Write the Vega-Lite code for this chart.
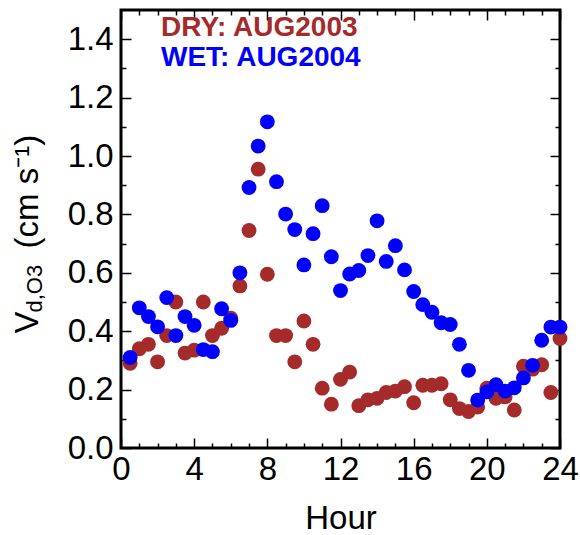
{
  "$schema": "https://vega.github.io/schema/vega-lite/v6.json",
  "width": 439,
  "height": 438,
  "autosize": {"type": "none"},
  "padding": {"left": 121, "top": 10, "right": 20, "bottom": 87},
  "background": "white",
  "config": {
    "view": {"stroke": "black", "strokeWidth": 3},
    "font": "Liberation Sans",
    "axis": {
      "domain": false,
      "grid": false,
      "ticks": true,
      "tickColor": "black",
      "tickWidth": 1.5,
      "labelFont": "Liberation Sans",
      "labelFontSize": 33,
      "labelColor": "black",
      "titleFont": "Liberation Sans",
      "titleFontWeight": "normal",
      "titleColor": "black"
    }
  },
  "data": {
    "values": [
      {"hour": 0.5, "v": 0.29, "series": "DRY: AUG2003"},
      {"hour": 1.0, "v": 0.34, "series": "DRY: AUG2003"},
      {"hour": 1.5, "v": 0.355, "series": "DRY: AUG2003"},
      {"hour": 2.0, "v": 0.295, "series": "DRY: AUG2003"},
      {"hour": 2.5, "v": 0.385, "series": "DRY: AUG2003"},
      {"hour": 3.0, "v": 0.5, "series": "DRY: AUG2003"},
      {"hour": 3.5, "v": 0.325, "series": "DRY: AUG2003"},
      {"hour": 4.0, "v": 0.335, "series": "DRY: AUG2003"},
      {"hour": 4.5, "v": 0.5, "series": "DRY: AUG2003"},
      {"hour": 5.0, "v": 0.385, "series": "DRY: AUG2003"},
      {"hour": 5.5, "v": 0.41, "series": "DRY: AUG2003"},
      {"hour": 6.0, "v": 0.445, "series": "DRY: AUG2003"},
      {"hour": 6.5, "v": 0.555, "series": "DRY: AUG2003"},
      {"hour": 7.0, "v": 0.745, "series": "DRY: AUG2003"},
      {"hour": 7.5, "v": 0.955, "series": "DRY: AUG2003"},
      {"hour": 8.0, "v": 0.595, "series": "DRY: AUG2003"},
      {"hour": 8.5, "v": 0.385, "series": "DRY: AUG2003"},
      {"hour": 9.0, "v": 0.385, "series": "DRY: AUG2003"},
      {"hour": 9.5, "v": 0.295, "series": "DRY: AUG2003"},
      {"hour": 10.0, "v": 0.435, "series": "DRY: AUG2003"},
      {"hour": 10.5, "v": 0.355, "series": "DRY: AUG2003"},
      {"hour": 11.0, "v": 0.205, "series": "DRY: AUG2003"},
      {"hour": 11.5, "v": 0.15, "series": "DRY: AUG2003"},
      {"hour": 12.0, "v": 0.235, "series": "DRY: AUG2003"},
      {"hour": 12.5, "v": 0.26, "series": "DRY: AUG2003"},
      {"hour": 13.0, "v": 0.145, "series": "DRY: AUG2003"},
      {"hour": 13.5, "v": 0.165, "series": "DRY: AUG2003"},
      {"hour": 14.0, "v": 0.17, "series": "DRY: AUG2003"},
      {"hour": 14.5, "v": 0.19, "series": "DRY: AUG2003"},
      {"hour": 15.0, "v": 0.195, "series": "DRY: AUG2003"},
      {"hour": 15.5, "v": 0.21, "series": "DRY: AUG2003"},
      {"hour": 16.0, "v": 0.155, "series": "DRY: AUG2003"},
      {"hour": 16.5, "v": 0.215, "series": "DRY: AUG2003"},
      {"hour": 17.0, "v": 0.215, "series": "DRY: AUG2003"},
      {"hour": 17.5, "v": 0.22, "series": "DRY: AUG2003"},
      {"hour": 18.0, "v": 0.165, "series": "DRY: AUG2003"},
      {"hour": 18.5, "v": 0.135, "series": "DRY: AUG2003"},
      {"hour": 19.0, "v": 0.125, "series": "DRY: AUG2003"},
      {"hour": 19.5, "v": 0.14, "series": "DRY: AUG2003"},
      {"hour": 20.0, "v": 0.205, "series": "DRY: AUG2003"},
      {"hour": 20.5, "v": 0.17, "series": "DRY: AUG2003"},
      {"hour": 21.0, "v": 0.175, "series": "DRY: AUG2003"},
      {"hour": 21.5, "v": 0.13, "series": "DRY: AUG2003"},
      {"hour": 22.0, "v": 0.28, "series": "DRY: AUG2003"},
      {"hour": 22.5, "v": 0.27, "series": "DRY: AUG2003"},
      {"hour": 23.0, "v": 0.285, "series": "DRY: AUG2003"},
      {"hour": 23.5, "v": 0.19, "series": "DRY: AUG2003"},
      {"hour": 24.0, "v": 0.375, "series": "DRY: AUG2003"},
      {"hour": 0.5, "v": 0.31, "series": "WET: AUG2004"},
      {"hour": 1.0, "v": 0.48, "series": "WET: AUG2004"},
      {"hour": 1.5, "v": 0.45, "series": "WET: AUG2004"},
      {"hour": 2.0, "v": 0.415, "series": "WET: AUG2004"},
      {"hour": 2.5, "v": 0.515, "series": "WET: AUG2004"},
      {"hour": 3.0, "v": 0.385, "series": "WET: AUG2004"},
      {"hour": 3.5, "v": 0.45, "series": "WET: AUG2004"},
      {"hour": 4.0, "v": 0.42, "series": "WET: AUG2004"},
      {"hour": 4.5, "v": 0.337, "series": "WET: AUG2004"},
      {"hour": 5.0, "v": 0.33, "series": "WET: AUG2004"},
      {"hour": 5.5, "v": 0.477, "series": "WET: AUG2004"},
      {"hour": 6.0, "v": 0.437, "series": "WET: AUG2004"},
      {"hour": 6.5, "v": 0.6, "series": "WET: AUG2004"},
      {"hour": 7.0, "v": 0.892, "series": "WET: AUG2004"},
      {"hour": 7.5, "v": 1.034, "series": "WET: AUG2004"},
      {"hour": 8.0, "v": 1.117, "series": "WET: AUG2004"},
      {"hour": 8.5, "v": 0.912, "series": "WET: AUG2004"},
      {"hour": 9.0, "v": 0.801, "series": "WET: AUG2004"},
      {"hour": 9.5, "v": 0.748, "series": "WET: AUG2004"},
      {"hour": 10.0, "v": 0.627, "series": "WET: AUG2004"},
      {"hour": 10.5, "v": 0.734, "series": "WET: AUG2004"},
      {"hour": 11.0, "v": 0.83, "series": "WET: AUG2004"},
      {"hour": 11.5, "v": 0.655, "series": "WET: AUG2004"},
      {"hour": 12.0, "v": 0.539, "series": "WET: AUG2004"},
      {"hour": 12.5, "v": 0.596, "series": "WET: AUG2004"},
      {"hour": 13.0, "v": 0.608, "series": "WET: AUG2004"},
      {"hour": 13.5, "v": 0.659, "series": "WET: AUG2004"},
      {"hour": 14.0, "v": 0.778, "series": "WET: AUG2004"},
      {"hour": 14.5, "v": 0.639, "series": "WET: AUG2004"},
      {"hour": 15.0, "v": 0.693, "series": "WET: AUG2004"},
      {"hour": 15.5, "v": 0.61, "series": "WET: AUG2004"},
      {"hour": 16.0, "v": 0.536, "series": "WET: AUG2004"},
      {"hour": 16.5, "v": 0.491, "series": "WET: AUG2004"},
      {"hour": 17.0, "v": 0.465, "series": "WET: AUG2004"},
      {"hour": 17.5, "v": 0.429, "series": "WET: AUG2004"},
      {"hour": 18.0, "v": 0.423, "series": "WET: AUG2004"},
      {"hour": 18.5, "v": 0.355, "series": "WET: AUG2004"},
      {"hour": 19.0, "v": 0.266, "series": "WET: AUG2004"},
      {"hour": 19.5, "v": 0.164, "series": "WET: AUG2004"},
      {"hour": 20.0, "v": 0.192, "series": "WET: AUG2004"},
      {"hour": 20.5, "v": 0.217, "series": "WET: AUG2004"},
      {"hour": 21.0, "v": 0.195, "series": "WET: AUG2004"},
      {"hour": 21.5, "v": 0.206, "series": "WET: AUG2004"},
      {"hour": 22.0, "v": 0.24, "series": "WET: AUG2004"},
      {"hour": 22.5, "v": 0.283, "series": "WET: AUG2004"},
      {"hour": 23.0, "v": 0.369, "series": "WET: AUG2004"},
      {"hour": 23.5, "v": 0.414, "series": "WET: AUG2004"},
      {"hour": 24.0, "v": 0.414, "series": "WET: AUG2004"}
    ]
  },
  "layer": [
    {
      "mark": {"type": "point", "opacity": 0},
      "encoding": {
        "x": {"field": "hour", "type": "quantitative", "scale": {"domain": [0, 24], "nice": false},
          "axis": {"orient": "bottom", "offset": -5, "values": [1,2,3,5,6,7,9,10,11,13,14,15,17,18,19,21,22,23], "labels": false, "tickSize": 5, "title": null}},
        "y": {"field": "v", "type": "quantitative", "scale": {"domain": [0, 1.5], "nice": false, "zero": false},
          "axis": {"orient": "left", "offset": -5, "values": [0.1,0.3,0.5,0.7,0.9,1.1,1.3], "labels": false, "tickSize": 5,
            "title": "V", "titleFontSize": 33, "titleAngle": -90, "titleAlign": "left", "titleBaseline": "alphabetic", "titleX": -89, "titleY": 323}}
      }
    },
    {
      "mark": {"type": "point", "opacity": 0},
      "encoding": {
        "x": {"field": "hour", "type": "quantitative", "scale": {"domain": [0, 24], "nice": false},
          "axis": {"orient": "top", "offset": -10, "values": [0,4,8,12,16,20,24], "labels": false, "tickSize": 10, "title": null}},
        "y": {"field": "v", "type": "quantitative", "scale": {"domain": [0, 1.5], "nice": false, "zero": false},
          "axis": {"orient": "right", "offset": -10, "values": [0,0.2,0.4,0.6,0.8,1.0,1.2,1.4], "labels": false, "tickSize": 10,
            "title": "d,O3", "titleFontSize": 22, "titleAngle": -90, "titleAlign": "left", "titleBaseline": "alphabetic", "titleX": -509, "titleY": 302}}
      }
    },
    {
      "mark": {"type": "point", "opacity": 0},
      "encoding": {
        "x": {"field": "hour", "type": "quantitative", "scale": {"domain": [0, 24], "nice": false},
          "axis": {"orient": "top", "offset": -5, "values": [1,2,3,5,6,7,9,10,11,13,14,15,17,18,19,21,22,23], "labels": false, "tickSize": 5, "title": null}},
        "y": {"field": "v", "type": "quantitative", "scale": {"domain": [0, 1.5], "nice": false, "zero": false},
          "axis": {"orient": "right", "offset": -5, "values": [0.1,0.3,0.5,0.7,0.9,1.1,1.3], "labels": false, "tickSize": 5, "title": null}}
      }
    },
    {
      "mark": {"type": "point", "filled": true, "size": 220, "opacity": 1},
      "encoding": {
        "x": {"field": "hour", "type": "quantitative", "scale": {"domain": [0, 24], "nice": false},
          "axis": {"orient": "bottom", "offset": -10, "values": [0,4,8,12,16,20,24], "tickSize": 10, "labelPadding": 5, "labelFlush": false,
            "title": "Hour", "titleFontSize": 33, "titleBaseline": "alphabetic", "titleY": 90}},
        "y": {"field": "v", "type": "quantitative", "scale": {"domain": [0, 1.5], "nice": false, "zero": false},
          "axis": {"orient": "left", "offset": -10, "values": [0,0.2,0.4,0.6,0.8,1.0,1.2,1.4], "format": ".1f", "tickSize": 10, "labelPadding": 8, "labelFlush": false,
            "title": "(cm s⁻¹)", "titleFontSize": 33, "titleAngle": -90, "titleAlign": "left", "titleBaseline": "alphabetic", "titleX": -94, "titleY": 238}},
        "color": {"field": "series", "type": "nominal",
          "scale": {"domain": ["DRY: AUG2003", "WET: AUG2004"], "range": ["#a52a2a", "#0000ff"]},
          "legend": {"orient": "none", "legendX": 12, "legendY": 4, "title": null,
            "symbolSize": 0, "symbolOpacity": 0, "symbolStrokeWidth": 0, "labelOffset": 0,
            "labelFont": "Liberation Sans", "labelFontSize": 28, "labelFontWeight": "bold", "rowPadding": 2,
            "labelLimit": 400,
            "encode": {"labels": {"update": {"fill": {"signal": "datum.value === 'DRY: AUG2003' ? '#a52a2a' : '#0000ff'"}}}}}},
        "order": {"field": "series", "type": "nominal"}
      }
    }
  ],
  "resolve": {"axis": {"x": "independent", "y": "independent"}}
}
